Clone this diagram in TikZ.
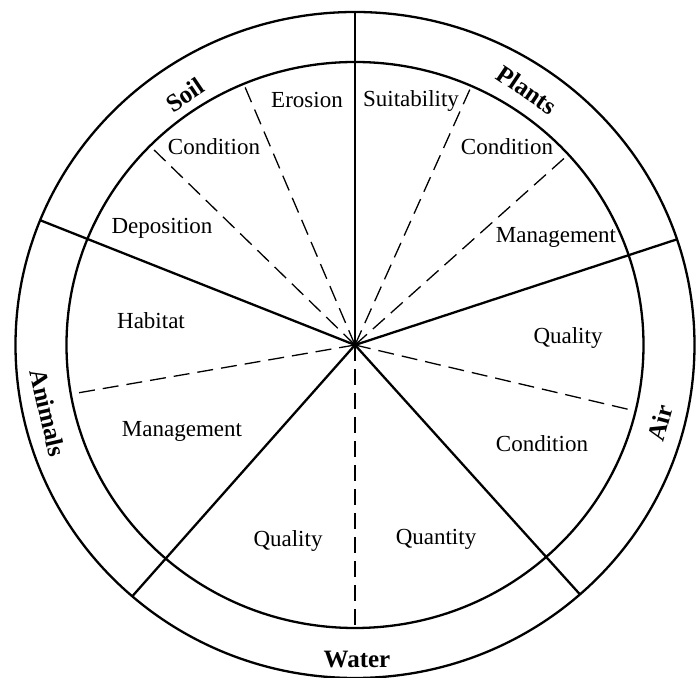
\documentclass[tikz,border=0pt]{standalone}
\usepackage{fontspec}
\setmainfont{Liberation Serif}
\tikzset{
  rotulo/.style={
    font=\fontsize{11.5}{13}\selectfont,
    inner sep=1pt
  },
  tema/.style={
    font=\fontsize{12.5}{14}\selectfont\bfseries,
    inner sep=0pt
  },
  anillo/.style={
    line width=1.15pt
  },
  radio/.style={
    line width=1.15pt
  },
  division/.style={
    line width=.65pt,
    dash pattern=on 8pt off 4pt
  }
}

\begin{document}
\begin{tikzpicture}[x=.5pt,y=.5pt]
\useasboundingbox (-355,-333) rectangle (342,345);
\coordinate (c) at (0,0);
% the two rings
\draw[anillo] (c) ellipse [x radius=339.5, y radius=333];
\draw[anillo] (c) ellipse [x radius=288.5, y radius=283];
% solid spokes between the five themes
\foreach \a [count=\i] in {90,158,229,311.5,18.5}{
  \coordinate (r\i) at (\a:339.5 and 333);
  \draw[radio] (c) -- (r\i);
}
% dashed spokes inside each theme
\foreach \a [count=\i] in {112.7,135.3,42.3,66.2,190,270,-13.5}{
  \coordinate (d\i) at (\a:288.5 and 283);
  \draw[division] (c) -- (d\i);
}
% inner labels
\node[rotulo] (soil-ero) at (-48,245) {Erosion};
\node[rotulo] (soil-con) at (-141,198) {Condition};
\node[rotulo] (soil-dep) at (-193,117) {Deposition};
\node[rotulo] (plant-sui) at (56,244) {Suitability};
\node[rotulo] (plant-con) at (152,198) {Condition};
\node[rotulo] (plant-man) at (201,108) {Management};
\node[rotulo] (air-qua) at (213,7) {Quality};
\node[rotulo] (air-con) at (187,-99) {Condition};
\node[rotulo] (water-qua) at (-67,-196) {Quality};
\node[rotulo] (water-qty) at (81,-194) {Quantity};
\node[rotulo] (anim-hab) at (-204,24) {Habitat};
\node[rotulo] (anim-man) at (-173,-86) {Management};
% theme names on the ring
\node[tema,rotate=34] (soil) at (-170,250) {Soil};
\node[tema,rotate=-34] (plants) at (172,255) {Plants};
\node[tema,rotate=75] (air) at (305,-78) {Air};
\node[tema] (water) at (2,-315) {Water};
\node[tema,rotate=-77] (animals) at (-307,-68) {Animals};
\end{tikzpicture}
\end{document}
